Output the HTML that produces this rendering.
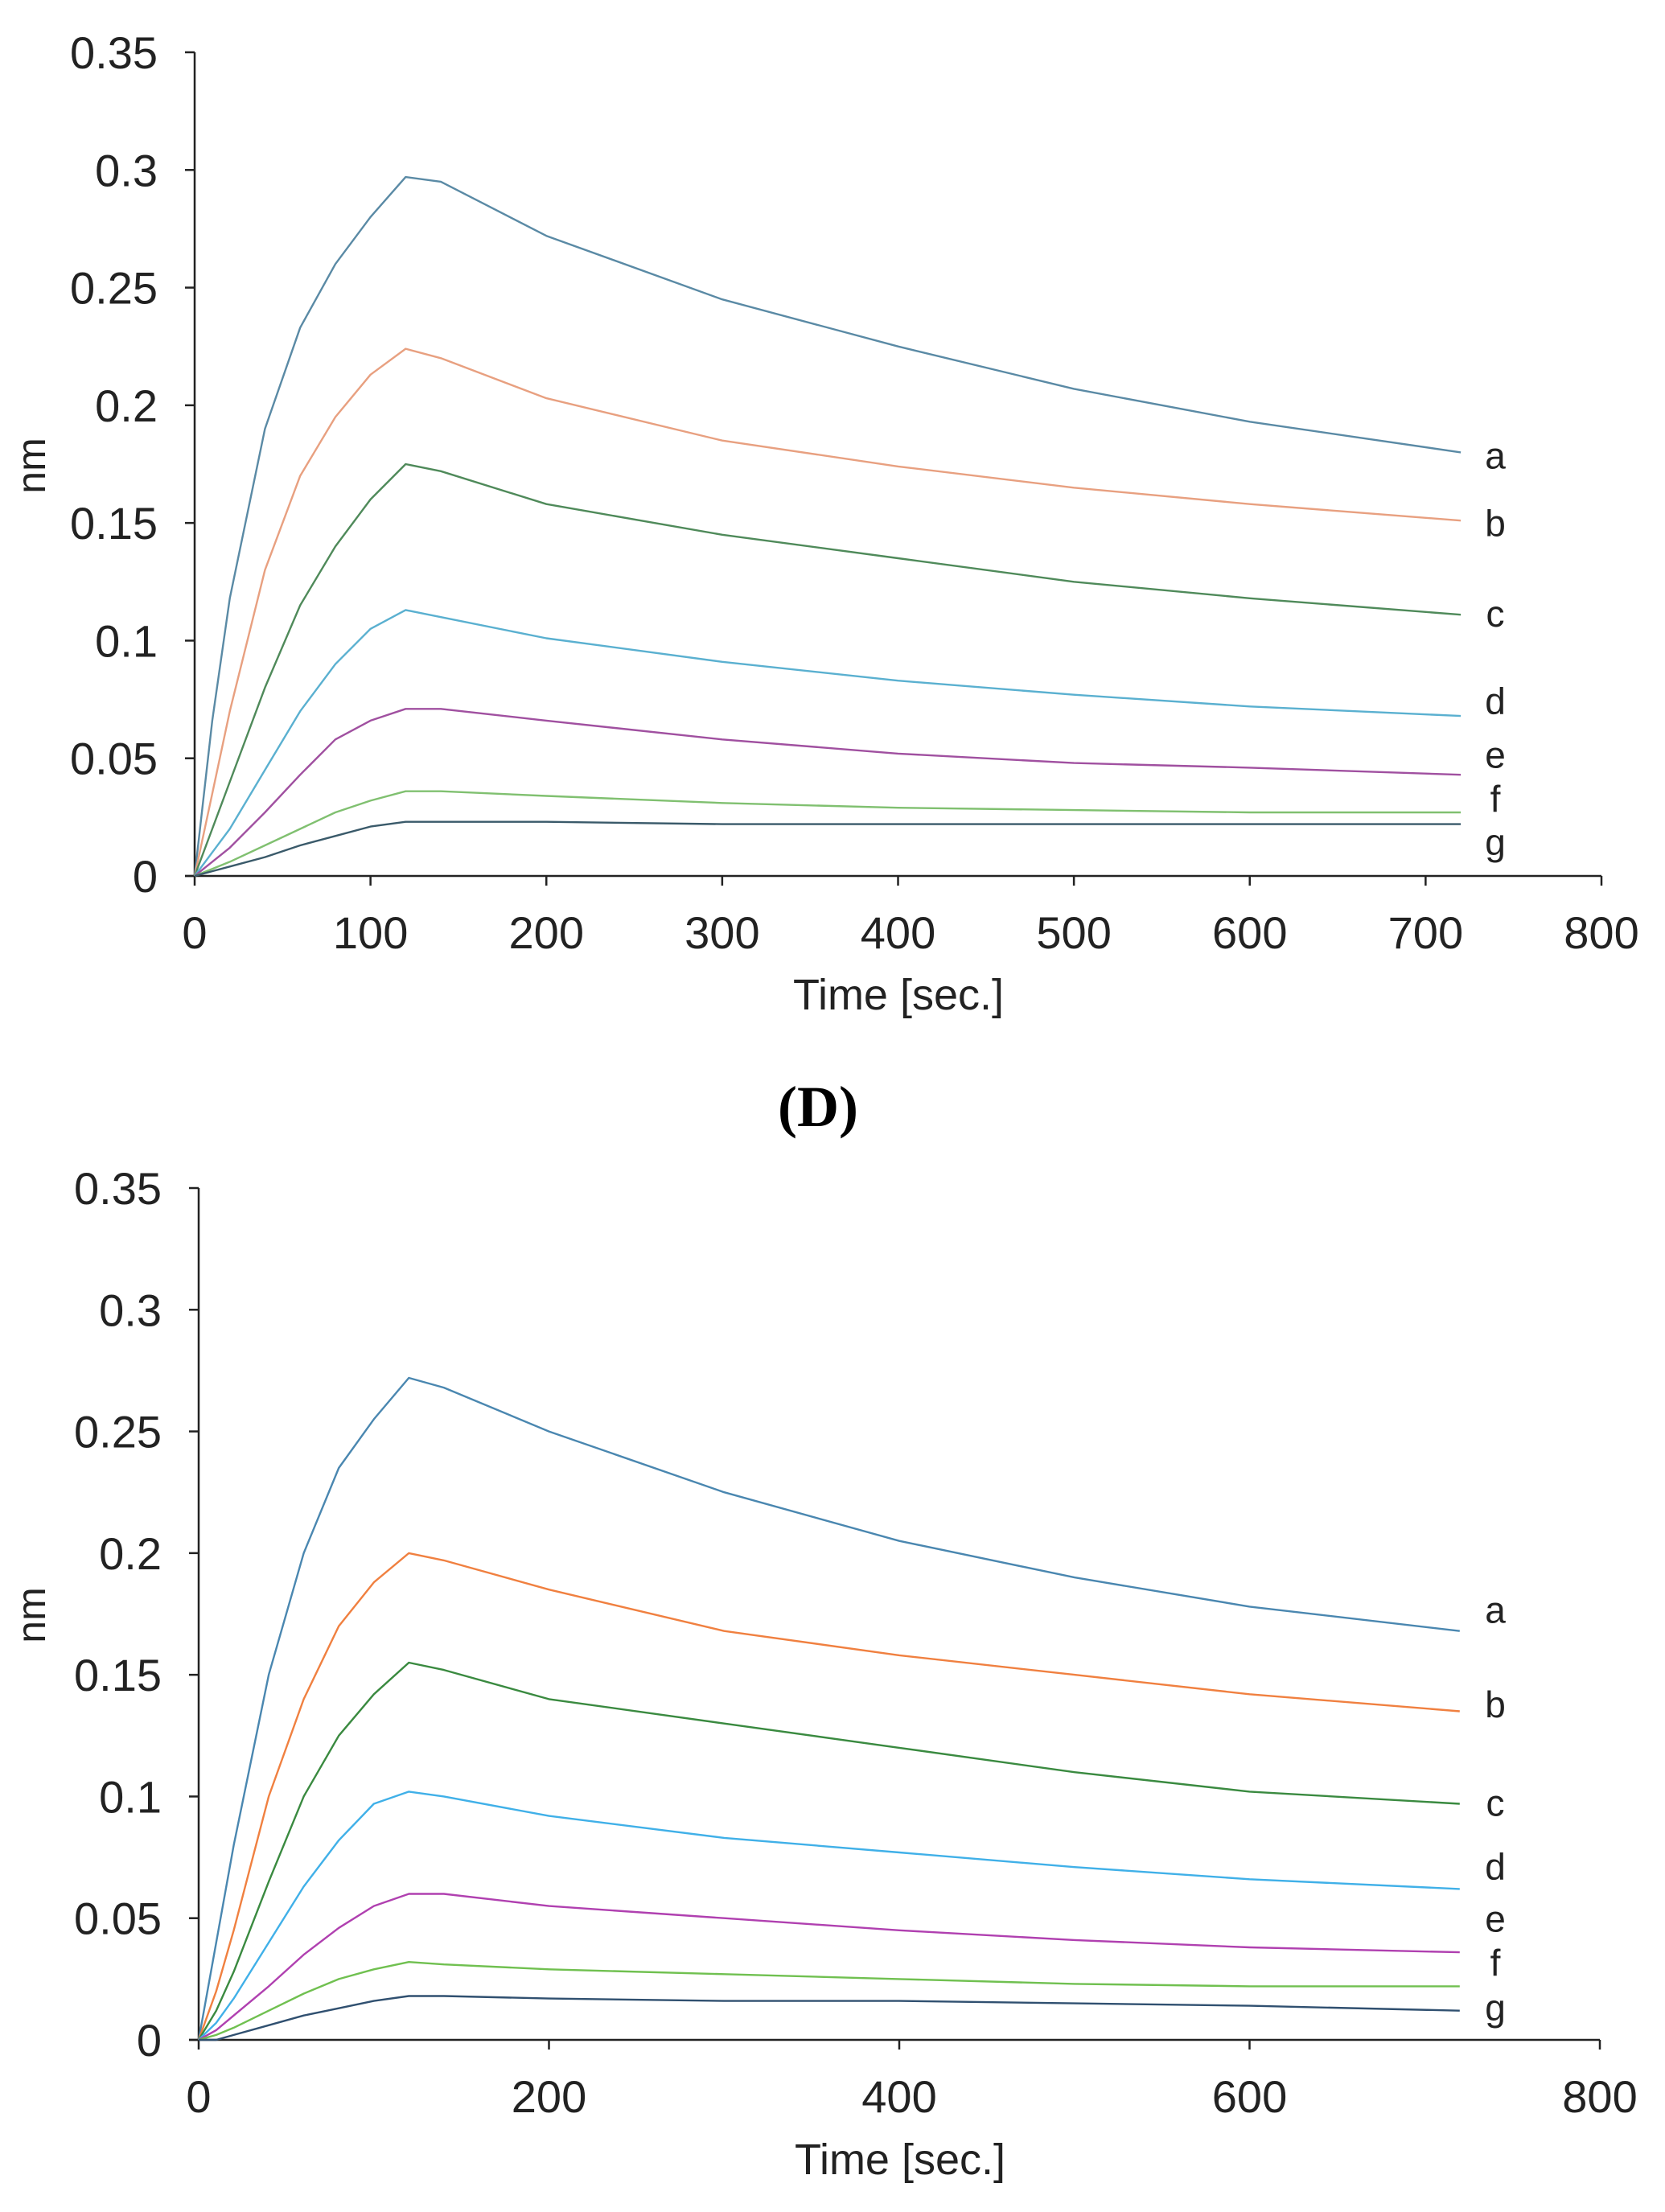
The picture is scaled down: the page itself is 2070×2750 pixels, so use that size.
<!DOCTYPE html>
<html><head><meta charset="utf-8"><style>
html,body{margin:0;padding:0;background:#fff;}
svg{display:block;font-family:"Liberation Sans",Arial,sans-serif;}
</style></head><body>
<svg id="fig" width="2070" height="2750" viewBox="0 0 2070 2750" xmlns="http://www.w3.org/2000/svg">
<text x="1017" y="1400" text-anchor="middle" font-family="Liberation Serif, serif" font-size="72" font-weight="bold">(D)</text>
</svg>
<script>
var times = [0,10,20,40,60,80,100,120,140,200,300,400,500,600,720];
var seriesNames = ['a','b','c','d','e','f','g'];
var topA=[0,0.066,0.118,0.19,0.233,0.26,0.28,0.297,0.295,0.272,0.245,0.225,0.207,0.193,0.18];
var topB=[0,0.035,0.07,0.13,0.17,0.195,0.213,0.224,0.22,0.203,0.185,0.174,0.165,0.158,0.151];
var topC=[0,0.02,0.04,0.08,0.115,0.14,0.16,0.175,0.172,0.158,0.145,0.135,0.125,0.118,0.111];
var topD=[0,0.01,0.02,0.045,0.07,0.09,0.105,0.113,0.11,0.101,0.091,0.083,0.077,0.072,0.068];
var topE=[0,0.006,0.012,0.027,0.043,0.058,0.066,0.071,0.071,0.066,0.058,0.052,0.048,0.046,0.043];
var topF=[0,0.003,0.006,0.013,0.02,0.027,0.032,0.036,0.036,0.034,0.031,0.029,0.028,0.027,0.027];
var topG=[0,0.002,0.004,0.008,0.013,0.017,0.021,0.023,0.023,0.023,0.022,0.022,0.022,0.022,0.022];
var botA=[0,0.04,0.08,0.15,0.2,0.235,0.255,0.272,0.268,0.25,0.225,0.205,0.19,0.178,0.168];
var botB=[0,0.02,0.045,0.1,0.14,0.17,0.188,0.2,0.197,0.185,0.168,0.158,0.15,0.142,0.135];
var botC=[0,0.012,0.028,0.065,0.1,0.125,0.142,0.155,0.152,0.14,0.13,0.12,0.11,0.102,0.097];
var botD=[0,0.007,0.017,0.04,0.063,0.082,0.097,0.102,0.1,0.092,0.083,0.077,0.071,0.066,0.062];
var botE=[0,0.004,0.01,0.022,0.035,0.046,0.055,0.06,0.06,0.055,0.05,0.045,0.041,0.038,0.036];
var botF=[0,0.002,0.005,0.012,0.019,0.025,0.029,0.032,0.031,0.029,0.027,0.025,0.023,0.022,0.022];
var botG=[0,0,0.002,0.006,0.01,0.013,0.016,0.018,0.018,0.017,0.016,0.016,0.015,0.014,0.012];
var yTicks=[0,0.05,0.1,0.15,0.2,0.25,0.3,0.35];
var yTickLabels=['0','0.05','0.1','0.15','0.2','0.25','0.3','0.35'];
var xTicksTop=[0,100,200,300,400,500,600,700,800];
var xTicksBot=[0,200,400,600,800];
var topLabelY=[323,371,435,497,535,566,597];
var botLabelY=[1141,1208,1278,1323,1360,1391,1423];

var NS='http://www.w3.org/2000/svg';
var svg=document.getElementById('fig');
function mk(tag,attrs,parent){var e=document.createElementNS(NS,tag);for(var k in attrs)e.setAttribute(k,attrs[k]);(parent||svg).appendChild(e);return e;}

function chart(cfg){
  var g=mk('g',{});
  
  
  function X(v){return cfg.x0+(v/800)*(cfg.x1-cfg.x0);}
  function Y(v){return cfg.y0-(v/0.35)*(cfg.y0-cfg.y1);}
  var ax=mk('line',{x1:X(0),y1:cfg.y1,x2:X(0),y2:cfg.y0,stroke:'#222','stroke-width':2.5},g);
  
  
  var bx=mk('line',{x1:X(0)-12,y1:cfg.y0,x2:X(800),y2:cfg.y0,stroke:'#222','stroke-width':2.5},g);
  
  
  yTicks.forEach(function(v,i){
    mk('line',{x1:X(0)-12,y1:Y(v),x2:X(0),y2:Y(v),stroke:'#222','stroke-width':2.5},g);
    var t=mk('text',{x:X(0)-46,y:Y(v)+20,'text-anchor':'end','font-size':56,fill:'#222'},g);
    t.textContent=yTickLabels[i];
    
    
  });
  cfg.xt.forEach(function(v){
    mk('line',{x1:X(v),y1:cfg.y0,x2:X(v),y2:cfg.y0+12,stroke:'#222','stroke-width':2.5},g);
    var t=mk('text',{x:X(v),y:cfg.y0+90,'text-anchor':'middle','font-size':56,fill:'#222'},g);
    t.textContent=String(v);
    
    
  });
  var xt=mk('text',{x:cfg.xtx,y:cfg.xty,'text-anchor':'middle','font-size':54,fill:'#222'},g);
  xt.textContent='Time [sec.]';
  
  
  var yt=mk('text',{x:0,y:0,'text-anchor':'middle','font-size':50,fill:'#222',transform:'translate(56,'+cfg.yty+') rotate(-90)'},g);
  yt.textContent='nm';
  
  
  cfg.series.forEach(function(vals,i){
    var pts=times.map(function(t,j){return X(t).toFixed(1)+','+Y(vals[j]).toFixed(1);}).join(' ');
    var p=mk('polyline',{points:pts,fill:'none',stroke:cfg.colors[i],'stroke-width':2.4,'stroke-linejoin':'round'},g);
    
    
    var l=mk('text',{x:1859,y:cfg.labelY[i]+16,'text-anchor':'middle','font-size':46,fill:'#222'},g);
    l.textContent=seriesNames[i];
    
    
  });
}
chart({name:'chart-top',x0:242,x1:1991,y0:1089,y1:65,xt:xTicksTop,xtx:1117,xty:1255,yty:579,
  series:[topA,topB,topC,topD,topE,topF,topG],labelY:topLabelY.map(function(v){return v*1.754;}),
  colors:['#5a8aa5','#e8a080','#4f8a5a','#5ab0d0','#a050a0','#80c070','#3a5a6a']});
chart({name:'chart-bottom',x0:247,x1:1989,y0:2536,y1:1477,xt:xTicksBot,xtx:1119,xty:2703,yty:2008,
  series:[botA,botB,botC,botD,botE,botF,botG],labelY:botLabelY.map(function(v){return v*1.754;}),
  colors:['#4a87b0','#f08040','#3a8a40','#40b0e8','#b040b0','#70c050','#305070']});
</script>
</body></html>
